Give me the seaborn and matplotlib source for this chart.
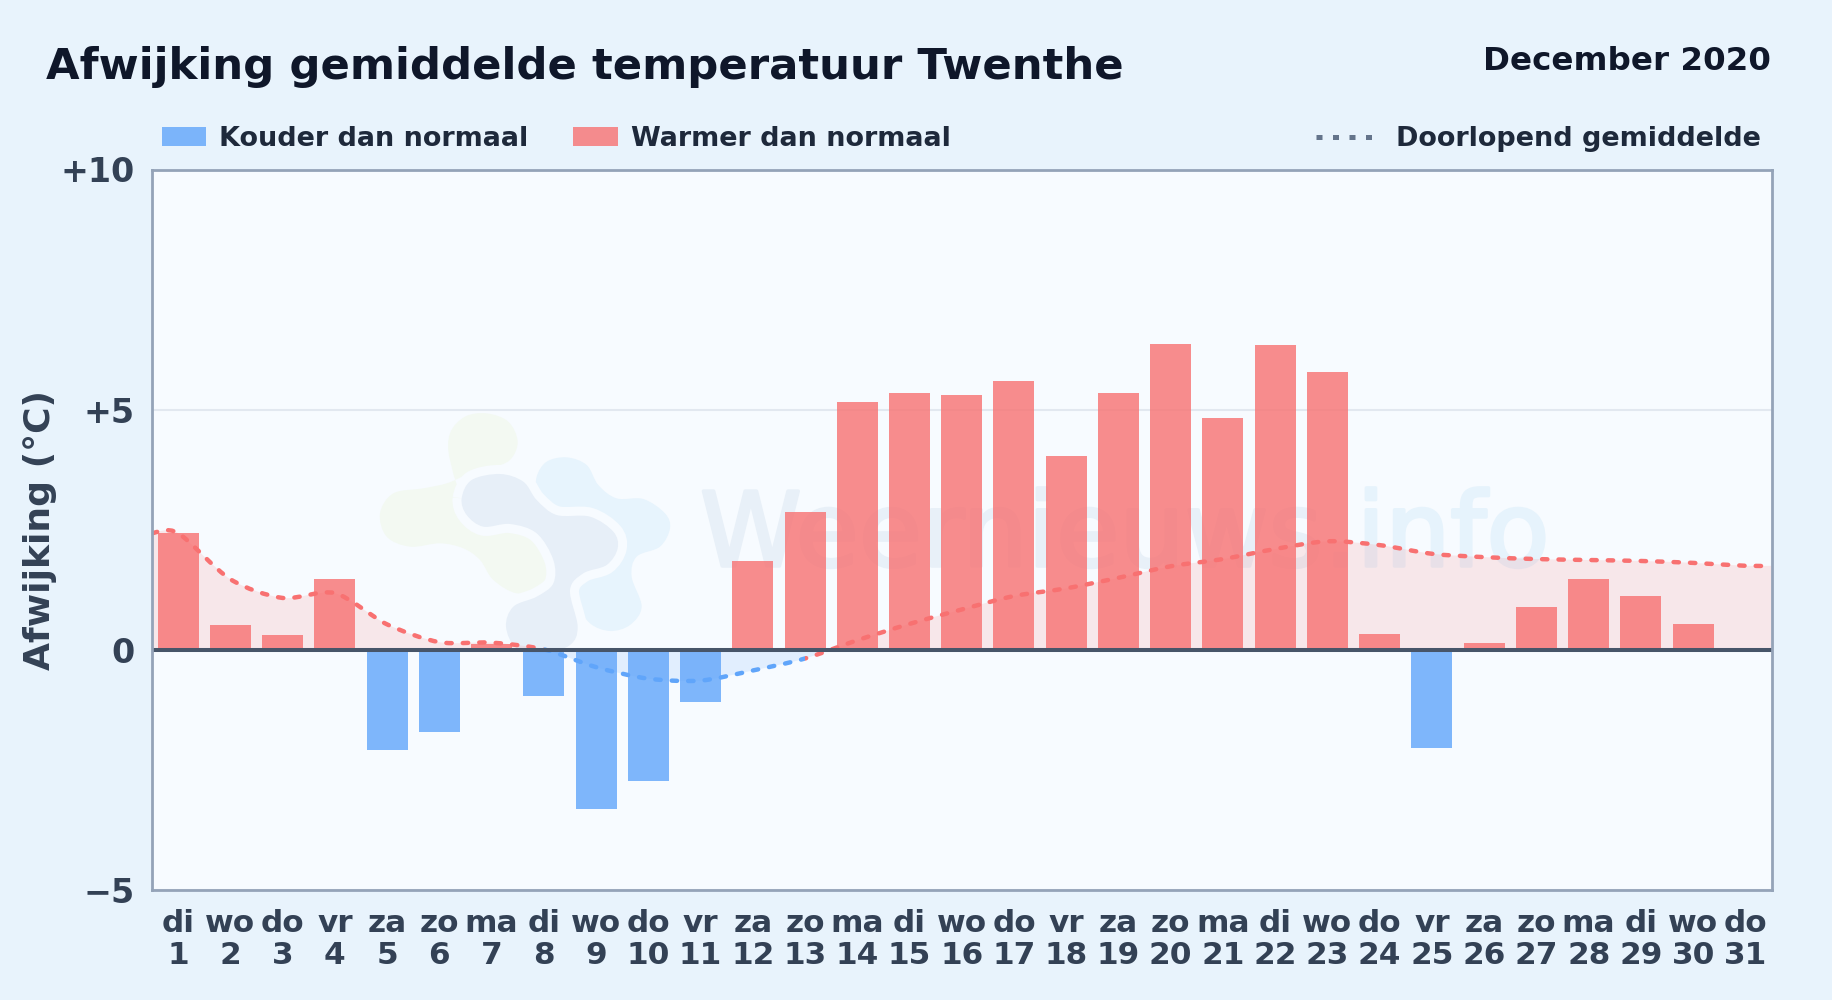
import matplotlib
matplotlib.use("Agg")
import matplotlib.pyplot as plt
import matplotlib.patheffects as pe
import pandas as pd
import seaborn as sns
from matplotlib.lines import Line2D
from matplotlib.patches import PathPatch, Patch, Rectangle
from matplotlib.path import Path

# data
weekdays = ["di", "wo", "do", "vr", "za", "zo", "ma", "di", "wo", "do", "vr", "za", "zo", "ma", "di", "wo",
            "do", "vr", "za", "zo", "ma", "di", "wo", "do", "vr", "za", "zo", "ma", "di", "wo", "do"]
day_numbers = list(range(1, 32))
deviation = [2.43, 0.51, 0.30, 1.48, -2.09, -1.72, 0.12, -0.97, -3.31, -2.74, -1.09, 1.85, 2.87, 5.16, 5.35, 5.30,
             5.60, 4.04, 5.35, 6.37, 4.82, 6.35, 5.79, 0.34, -2.04, 0.15, 0.90, 1.48, 1.12, 0.53, 0.0]
running_mean = [2.43, 1.47, 1.08, 1.18, 0.53, 0.16, 0.15, 0.01, -0.36, -0.60, -0.64, -0.43, -0.18, 0.20, 0.54, 0.84,
                1.12, 1.28, 1.50, 1.74, 1.89, 2.10, 2.26, 2.18, 2.00, 1.93, 1.89, 1.87, 1.85, 1.81, 1.75]
y_ticks = [-5, 0, 5, 10]
y_tick_labels = ["\u22125", "0", "+5", "+10"]

RED = "#f87171"
BLUE = "#60a5fa"
TICK = "#334155"
PLOT_BG = "#f7fbff"

sns.set_style("white")
plt.rcParams["font.family"] = ["DejaVu Sans"]
plt.rcParams["font.weight"] = "bold"

fig = plt.figure(figsize=(18.32, 10), dpi=100, facecolor="#e8f3fc")
ax = fig.add_axes([152 / 1832, 1 - 890 / 1000, (1771.5 - 152) / 1832, (890 - 169.5) / 1000])
ax.set_facecolor(PLOT_BG)

# hidden axes in pixels of the picture, for legends and watermark
px = fig.add_axes([0, 0, 1, 1])
px.set_xlim(0, 1832)
px.set_ylim(1000, 0)
px.set_visible(False)

# bars
labels = [f"{w}\n{d}" for w, d in zip(weekdays, day_numbers)]
df = pd.DataFrame({"dag": labels, "afwijking": deviation,
                   "soort": ["koud" if v < 0 else "warm" for v in deviation]})
df["pos"] = range(len(df))
sns.barplot(data=df, x="pos", y="afwijking", hue="soort", dodge=False, palette={"koud": BLUE, "warm": RED},
            alpha=0.8, width=0.785, saturation=1, linewidth=0, legend=False, zorder=3, ax=ax)

# smooth running mean as a bezier path, runs on to both edges of the plot
xs = [-0.5] + list(range(31)) + [30.5]
ys = [running_mean[0]] + running_mean + [running_mean[-1]]
verts = [(xs[0], ys[0])]
codes = [Path.MOVETO]
for i in range(len(xs) - 1):
    x0, x1 = xs[max(i - 1, 0)], xs[min(i + 2, len(xs) - 1)]
    y0, y1 = ys[max(i - 1, 0)], ys[min(i + 2, len(xs) - 1)]
    verts += [(xs[i] + (xs[i + 1] - x0) / 7, ys[i] + (ys[i + 1] - y0) / 7),
              (xs[i + 1] - (x1 - xs[i]) / 7, ys[i + 1] - (y1 - ys[i]) / 7),
              (xs[i + 1], ys[i + 1])]
    codes += [Path.CURVE4] * 3
line_path = Path(verts, codes)
area_path = Path(verts + [(30.5, 0), (-0.5, 0), (-0.5, ys[0])], codes + [Path.LINETO, Path.LINETO, Path.LINETO])

# area under the mean, red above zero and blue below
for color, y_from, height in [(RED, 0, 12), (BLUE, -12, 12)]:
    area = PathPatch(area_path, facecolor=color, edgecolor="none", alpha=0.14, zorder=2)
    ax.add_patch(area)
    area.set_clip_path(Rectangle((-0.5, y_from), 31, height, transform=ax.transData))

# the line changes colour per day, days 9-13 are blue
for color, x_from, width in [(RED, -0.5, 7.5), (BLUE, 7, 5), (RED, 12, 18.5)]:
    mean_line = PathPatch(line_path, fill=False, edgecolor=color, linewidth=3.2, linestyle=(0, (1.2, 2.5)),
                          capstyle="round", zorder=4)
    ax.add_patch(mean_line)
    mean_line.set_clip_path(Rectangle((x_from, -12), width, 24, transform=ax.transData))

ax.axhline(0, color="#475569", linewidth=2.9, zorder=5)

# axes
ax.set_xlim(-0.5, 30.5)
ax.set_ylim(-5, 10)
ax.set_xticks(range(31))
ax.set_xticklabels(labels, fontsize=22.4, color=TICK, fontweight="bold", linespacing=1.15)
ax.set_yticks(y_ticks)
ax.set_yticklabels(y_tick_labels, fontsize=24, color=TICK, fontweight="bold")
ax.tick_params(axis="x", length=0, pad=13.5)
ax.tick_params(axis="y", length=0, pad=12.5)
ax.set_xlabel("")
ax.set_ylabel("")
ax.yaxis.grid(True, color="#e2e8f0", linewidth=1.5, zorder=1)
ax.xaxis.grid(False)
ax.set_axisbelow(True)
for spine in ax.spines.values():
    spine.set_visible(True)
    spine.set_color("#94a3b8")
    spine.set_linewidth(2.0)
    spine.set_zorder(6)
fig.text(40 / 1832, 1 - 530 / 1000, "Afwijking (°C)", rotation=90, fontsize=26, color=TICK, fontweight="bold",
         ha="center", va="center")

# watermark logo, outlines traced in a 3x crop starting at pixel (350, 400)
green_blob = [(300, 100), (345, 50), (410, 40), (475, 65), (503, 125), (480, 180), (420, 205), (350, 225), (290, 250),
              (220, 265), (130, 280), (90, 340), (110, 410), (180, 440), (270, 430), (340, 445), (390, 480), (430, 540),
              (500, 580), (570, 565), (610, 510), (590, 440), (500, 380), (350, 300), (300, 180)]
blue_blob = [(560, 230), (590, 185), (650, 172), (710, 195), (745, 255), (800, 295), (880, 297), (945, 340), (960, 385),
             (930, 440), (860, 470), (845, 530), (875, 620), (840, 675), (780, 693), (720, 670), (685, 610), (680, 500),
             (700, 400), (620, 330), (565, 280)]
dark_blob = [(335, 295), (365, 240), (450, 222), (520, 245), (560, 300), (620, 345), (720, 350), (790, 395), (803, 445),
             (770, 495), (700, 520), (660, 570), (683, 680), (660, 735), (580, 760), (500, 745), (468, 680), (490, 620),
             (560, 590), (610, 550), (610, 480), (560, 400), (480, 372), (400, 380), (350, 345)]


def blob_path(points):
    pts = [(350 + x / 3, 400 + y / 3) for x, y in points]
    n = len(pts)
    vs = [pts[0]]
    cs = [Path.MOVETO]
    for k in range(n):
        a, b, c, d = pts[k - 1], pts[k], pts[(k + 1) % n], pts[(k + 2) % n]
        vs += [(b[0] + (c[0] - a[0]) / 6, b[1] + (c[1] - a[1]) / 6),
               (c[0] - (d[0] - b[0]) / 6, c[1] - (d[1] - b[1]) / 6), c]
        cs += [Path.CURVE4] * 3
    return Path(vs, cs)


ax.add_patch(PathPatch(blob_path(green_blob), facecolor="#f3f9f2", edgecolor="none", transform=px.transData, zorder=1.2))
ax.add_patch(PathPatch(blob_path(blue_blob), facecolor="#e7f4fd", edgecolor="none", transform=px.transData, zorder=1.2))
ax.add_patch(PathPatch(blob_path(dark_blob), facecolor=PLOT_BG, edgecolor=PLOT_BG, linewidth=13, transform=px.transData,
                       zorder=1.3))
ax.add_patch(PathPatch(blob_path(dark_blob), facecolor="#e7eff8", edgecolor="none", transform=px.transData, zorder=1.4))
word = ax.text(700, 566, "Weernieuws", fontsize=74, fontweight="normal", color="#e8f0f8", transform=px.transData,
               ha="left", va="baseline", zorder=1.1)
word.set_path_effects([pe.withStroke(linewidth=2.5, foreground="#e8f0f8")])
info = ax.text(1324, 566, ".info", fontsize=74, fontweight="normal", color="#e6f3fc", transform=px.transData,
               ha="left", va="baseline", zorder=1.1)
info.set_path_effects([pe.withStroke(linewidth=2.5, foreground="#e6f3fc")])

# title
fig.text(46 / 1832, 1 - 79 / 1000, "Afwijking gemiddelde temperatuur Twenthe", fontsize=31.2, color="#0f172a",
         fontweight="bold", ha="left", va="baseline")
fig.text(1771 / 1832, 1 - 70 / 1000, "December 2020", fontsize=23.4, color="#0f172a",
         fontweight="bold", ha="right", va="baseline")

# legends
left_handles = [Patch(facecolor=BLUE, alpha=0.8, linewidth=0, label="Kouder dan normaal"),
                Patch(facecolor=RED, alpha=0.8, linewidth=0, label="Warmer dan normaal")]
fig.legend(handles=left_handles, loc="center left", bbox_to_anchor=(162, 139), bbox_transform=px.transData,
           frameon=False, ncol=2, fontsize=19.45, labelcolor="#1e293b", borderpad=0, borderaxespad=0,
           handlelength=1.635, handleheight=0.706, handletextpad=0.48, columnspacing=1.67)
right_handle = Line2D([], [], color="#64748b", linewidth=3.6, linestyle=(0, (1.2, 2.1)), dash_capstyle="butt",
                      label="Doorlopend gemiddelde")
fig.legend(handles=[right_handle], loc="center right", bbox_to_anchor=(1761, 139), bbox_transform=px.transData,
           frameon=False, fontsize=19.45, labelcolor="#1e293b", borderpad=0, borderaxespad=0,
           handlelength=2.1, handletextpad=0.85)

fig.savefig("out.png", dpi=100, facecolor=fig.get_facecolor())
